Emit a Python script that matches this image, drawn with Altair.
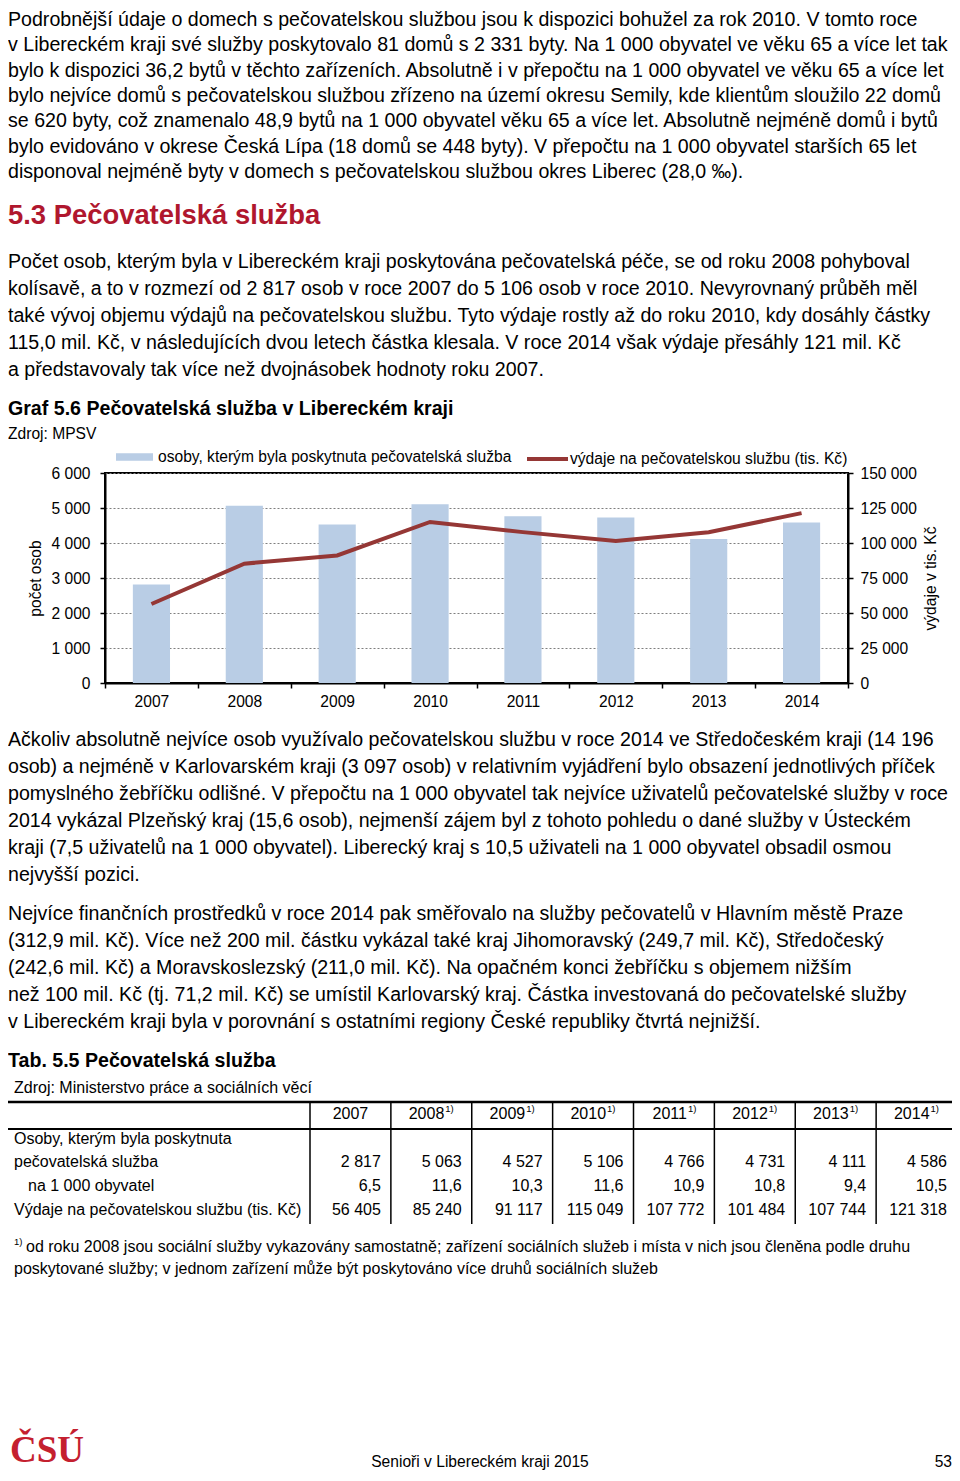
import altair as alt
import pandas as pd

# ---------------- data ----------------
years = ["2007", "2008", "2009", "2010", "2011", "2012", "2013", "2014"]
osoby = [2817, 5063, 4527, 5106, 4766, 4731, 4111, 4586]
na_1000 = [6.5, 11.6, 10.3, 11.6, 10.9, 10.8, 9.4, 10.5]
vydaje = [56405, 85240, 91117, 115049, 107772, 101484, 107744, 121318]

bar_label = "osoby, kterým byla poskytnuta pečovatelská služba"
line_label = "výdaje na pečovatelskou službu (tis. Kč)"
left_ticks = [0, 1000, 2000, 3000, 4000, 5000, 6000]
right_ticks = [0, 25000, 50000, 75000, 100000, 125000, 150000]

para1 = [
    "Podrobnější údaje o domech s pečovatelskou službou jsou k dispozici bohužel za rok 2010. V tomto roce",
    "v Libereckém kraji své služby poskytovalo 81 domů s 2 331 byty. Na 1 000 obyvatel ve věku 65 a více let tak",
    "bylo k dispozici 36,2 bytů v těchto zařízeních. Absolutně i v přepočtu na 1 000 obyvatel ve věku 65 a více let",
    "bylo nejvíce domů s pečovatelskou službou zřízeno na území okresu Semily, kde klientům sloužilo 22 domů",
    "se 620 byty, což znamenalo 48,9 bytů na 1 000 obyvatel věku 65 a více let. Absolutně nejméně domů i bytů",
    "bylo evidováno v okrese Česká Lípa (18 domů se 448 byty). V přepočtu na 1 000 obyvatel starších 65 let",
    "disponoval nejméně byty v domech s pečovatelskou službou okres Liberec (28,0 ‰).",
]
heading = "5.3 Pečovatelská služba"
para2 = [
    "Počet osob, kterým byla v Libereckém kraji poskytována pečovatelská péče, se od roku 2008 pohyboval",
    "kolísavě, a to v rozmezí od 2 817 osob v roce 2007 do 5 106 osob v roce 2010. Nevyrovnaný průběh měl",
    "také vývoj objemu výdajů na pečovatelskou službu. Tyto výdaje rostly až do roku 2010, kdy dosáhly částky",
    "115,0 mil. Kč, v následujících dvou letech částka klesala. V roce 2014 však výdaje přesáhly 121 mil. Kč",
    "a představovaly tak více než dvojnásobek hodnoty roku 2007.",
]
graf_title = "Graf 5.6 Pečovatelská služba v Libereckém kraji"
graf_source = "Zdroj: MPSV"
para3 = [
    "Ačkoliv absolutně nejvíce osob využívalo pečovatelskou službu v roce 2014 ve Středočeském kraji (14 196",
    "osob) a nejméně v Karlovarském kraji (3 097 osob) v relativním vyjádření bylo obsazení jednotlivých příček",
    "pomyslného žebříčku odlišné. V přepočtu na 1 000 obyvatel tak nejvíce uživatelů pečovatelské služby v roce",
    "2014 vykázal Plzeňský kraj (15,6 osob), nejmenší zájem byl z tohoto pohledu o dané služby v Ústeckém",
    "kraji (7,5 uživatelů na 1 000 obyvatel). Liberecký kraj s 10,5 uživateli na 1 000 obyvatel obsadil osmou",
    "nejvyšší pozici.",
]
para4 = [
    "Nejvíce finančních prostředků v roce 2014 pak směřovalo na služby pečovatelů v Hlavním městě Praze",
    "(312,9 mil. Kč). Více než 200 mil. částku vykázal také kraj Jihomoravský (249,7 mil. Kč), Středočeský",
    "(242,6 mil. Kč) a Moravskoslezský (211,0 mil. Kč). Na opačném konci žebříčku s objemem nižším",
    "než 100 mil. Kč (tj. 71,2 mil. Kč) se umístil Karlovarský kraj. Částka investovaná do pečovatelské služby",
    "v Libereckém kraji byla v porovnání s ostatními regiony České republiky čtvrtá nejnižší.",
]
tab_title = "Tab. 5.5 Pečovatelská služba"
tab_source = "Zdroj: Ministerstvo práce a sociálních věcí"
row_labels = [
    "Osoby, kterým byla poskytnuta",
    "pečovatelská služba",
    "na 1 000 obyvatel",
    "Výdaje na pečovatelskou službu (tis. Kč)",
]
note_mark = "1)"
footnote = [
    "od roku 2008 jsou sociální služby vykazovány samostatně; zařízení sociálních služeb i místa v nich jsou členěna podle druhu",
    "poskytované služby; v jednom zařízení může být poskytováno více druhů sociálních služeb",
]
footer_title = "Senioři v Libereckém kraji 2015"
page_no = "53"
logo = "ČSÚ"

# ---------------- styles / layout ----------------
FONT = "Liberation Sans"
BAR = "#b9cde5"
LINE = "#953735"
RED = "#b0172e"
LOGO_RED = "#c4202f"
BODY_FS = 19.6
SMALL_FS = 16
CHART_FS = 15.6

SVG_W, SVG_H = 944, 1465
X0, Y0 = 105, 473          # page position of the plot area
W, H = 743, 210


def px(x):
    return x - X0


def py(y):
    return y - Y0


def fmt_int(v):
    return f"{v:,}".replace(",", " ")


def fmt_dec(v):
    return f"{v:.1f}".replace(".", ",")


body, bold, right_t, center_t, sup_t = [], [], [], [], []


def add(store, t, x, y, fs=BODY_FS, c="#000000"):
    store.append(dict(t=t, x=px(x), y=py(y), fs=fs, c=c))


def add_para(lines, y0, step=27):
    for i, line in enumerate(lines):
        add(body, line, 8, y0 + i * step)


add_para(para1, 20, 25.33)
add(bold, heading, 8, 216, 27.4, RED)
add_para(para2, 262)
add(bold, graf_title, 8, 409, 19.6)
add(body, graf_source, 8, 434, CHART_FS)
add_para(para3, 740)
add_para(para4, 914)
add(bold, tab_title, 8, 1061, 19.6)
add(body, tab_source, 14, 1088, SMALL_FS)

# table
lab_end, tab_left, tab_right = 310, 8, 957
col_w = (tab_right - lab_end) / len(years)
seps = [lab_end + i * col_w for i in range(len(years))]
row_y = [1139, 1162, 1186, 1210]
for i, lab in enumerate(row_labels):
    add(body, lab, 28 if i == 2 else 14, row_y[i], SMALL_FS)
for i, yr in enumerate(years):
    cx = seps[i] + col_w / 2
    if i == 0:
        add(center_t, yr, cx, 1114, SMALL_FS)
    else:
        add(right_t, yr, cx + 13, 1114, SMALL_FS)
        add(sup_t, note_mark, cx + 14, 1109, 9.5)
    rx = seps[i] + col_w - 10
    add(right_t, fmt_int(osoby[i]), rx, row_y[1], SMALL_FS)
    add(right_t, fmt_dec(na_1000[i]), rx, row_y[2], SMALL_FS)
    add(right_t, fmt_int(vydaje[i]), rx, row_y[3], SMALL_FS)

rules = [
    dict(x=px(tab_left), x2=px(tab_right), y=py(1102), y2=py(1102), w=2.5),
    dict(x=px(tab_left), x2=px(tab_right), y=py(1129), y2=py(1129), w=2),
]
for s in seps:
    rules.append(dict(x=px(s), x2=px(s), y=py(1102), y2=py(1224), w=1.5))

add(sup_t, note_mark, 14, 1242, 9.5)
add(body, footnote[0], 26, 1247, SMALL_FS)
add(body, footnote[1], 14, 1269, SMALL_FS)

add(center_t, footer_title, 480, 1462, CHART_FS)
add(right_t, page_no, 952, 1462, CHART_FS)


def text_layer(rows, align="left", weight="normal", font=FONT, baseline="middle"):
    return alt.Chart(pd.DataFrame(rows)).mark_text(
        align=align, baseline=baseline, fontWeight=weight, font=font
    ).encode(
        x=alt.X("x:Q", scale=None, axis=None),
        y=alt.Y("y:Q", scale=None, axis=None),
        text="t:N",
        size=alt.Size("fs:Q", scale=None, legend=None),
        color=alt.Color("c:N", scale=None, legend=None),
    )


logo_rows = [dict(t=logo, x=px(10), y=py(1462), fs=37, c=LOGO_RED)]

rule_layer = alt.Chart(pd.DataFrame(rules)).mark_rule(color="#000000").encode(
    x=alt.X("x:Q", scale=None, axis=None),
    x2="x2:Q",
    y=alt.Y("y:Q", scale=None, axis=None),
    y2="y2:Q",
    strokeWidth=alt.StrokeWidth("w:Q", scale=None, legend=None),
)

# ---------------- chart ----------------
df = pd.DataFrame({"rok": years, "osoby": osoby, "vydaje": vydaje,
                   "s1": bar_label, "s2": line_label})

label_expr = "replace(format(datum.value, ','), ',', ' ')"

xenc = alt.X(
    "rok:O",
    scale=alt.Scale(type="band", paddingInner=0, paddingOuter=0),
    axis=alt.Axis(title=None, labelAngle=0, tickBand="extent", tickSize=5,
                  tickColor="#000000", tickWidth=1.5, domainColor="#000000",
                  domainWidth=2, labelFontSize=CHART_FS, labelPadding=6,
                  labelColor="#000000", grid=False),
)

bars = alt.Chart(df).mark_bar(width=alt.RelativeBandSize(0.4)).encode(
    x=xenc,
    y=alt.Y("osoby:Q", scale=alt.Scale(domain=[0, 6000], nice=False),
            axis=alt.Axis(values=left_ticks, title="počet osob", grid=True,
                          gridDash=[2, 2], gridColor="#7f7f7f", gridWidth=1,
                          labelExpr=label_expr, tickSize=5, tickColor="#000000",
                          tickWidth=1.5, domainColor="#000000", domainWidth=2,
                          labelFontSize=CHART_FS, labelPadding=10, labelColor="#000000",
                          titleFontSize=CHART_FS, titleFontWeight="normal",
                          titleColor="#000000", titlePadding=7)),
    fill=alt.Fill("s1:N", scale=alt.Scale(domain=[bar_label], range=[BAR]),
                  legend=alt.Legend(title=None, orient="none", direction="horizontal",
                                    legendX=px(116), legendY=py(457) - 18.5,
                                    symbolType="M-1,-0.2H1V0.2H-1Z", symbolSize=1369,
                                    symbolStrokeWidth=0, labelFontSize=CHART_FS,
                                    labelColor="#000000", labelLimit=600,
                                    labelOffset=5, padding=0)),
)

line = alt.Chart(df).mark_line(strokeWidth=4).encode(
    x=xenc,
    y=alt.Y("vydaje:Q", scale=alt.Scale(domain=[0, 150000], nice=False),
            axis=alt.Axis(orient="right", values=right_ticks, title="výdaje v tis. Kč",
                          grid=False, labelExpr=label_expr, tickSize=5,
                          tickColor="#000000", tickWidth=1.5, domainColor="#000000",
                          domainWidth=2, labelFontSize=CHART_FS, labelPadding=7,
                          labelColor="#000000", titleFontSize=CHART_FS,
                          titleFontWeight="normal", titleColor="#000000",
                          titleAngle=270, titleBaseline="top", titlePadding=7)),
    stroke=alt.Stroke("s2:N", scale=alt.Scale(domain=[line_label], range=[LINE]),
                      legend=alt.Legend(title=None, orient="none", direction="horizontal",
                                        legendX=px(525), legendY=py(457) - 20.5,
                                        symbolType="stroke", symbolSize=1681,
                                        symbolStrokeWidth=4, labelFontSize=CHART_FS,
                                        labelColor="#000000", labelLimit=600,
                                        labelOffset=0, padding=0)),
)

chart = alt.layer(
    bars,
    line,
    text_layer(body),
    text_layer(bold, weight="bold"),
    text_layer(right_t, align="right"),
    text_layer(center_t, align="center"),
    text_layer(sup_t),
    text_layer(logo_rows, weight="bold", font="Liberation Sans Narrow", baseline="alphabetic"),
    rule_layer,
).resolve_scale(
    y="independent"
).properties(
    width=W,
    height=H,
    padding={"left": X0 - 8, "top": Y0 - 8,
             "right": SVG_W - (X0 - 8) - W, "bottom": SVG_H - (Y0 - 8) - H},
    autosize=alt.AutoSizeParams(type="none"),
).configure(
    font=FONT,
).configure_view(
    stroke="#000000",
    strokeWidth=2,
).configure_axis(
    labelFont=FONT,
    titleFont=FONT,
).configure_legend(
    labelFont=FONT,
)

chart.save("out.html", embed_options={"renderer": "svg", "actions": False})
